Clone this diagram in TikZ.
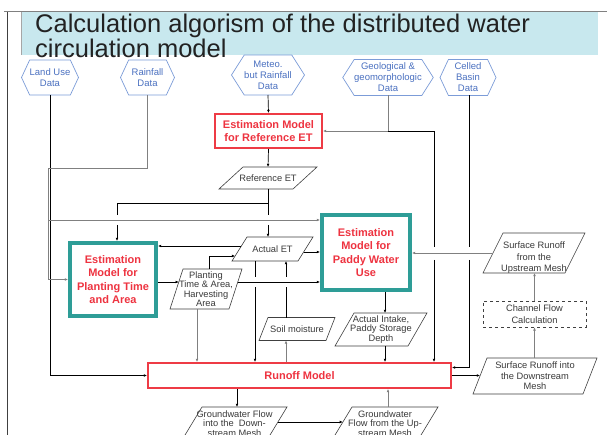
\documentclass[tikz,border=0pt]{standalone}
\usepackage{fontspec}
\setmainfont{Liberation Sans}
\usetikzlibrary{shapes.geometric,shapes.symbols,arrows.meta,calc}
\definecolor{titlebg}{HTML}{C8E8EE}
\definecolor{hexline}{HTML}{7C9CD8}
\definecolor{hextext}{HTML}{4A70C0}
\definecolor{redc}{HTML}{EE3B45}
\definecolor{redt}{HTML}{EE3340}
\definecolor{tealc}{HTML}{2E9D97}
\definecolor{paraline}{HTML}{404040}
\definecolor{paratext}{HTML}{3A3A3A}
\definecolor{grayline}{HTML}{808080}
\definecolor{titletext}{HTML}{222222}
\newcommand\drawpara[2]{\draw[paraline, line width=0.6pt] (#1.south west) -- ($(#1.north west)+(#2,0)$) -- (#1.north east) -- ($(#1.south east)+(-#2,0)$) -- cycle;}
\begin{document}
\begin{tikzpicture}[x=1pt,y=-1pt,
 hexa/.style={signal, signal to=east and west, signal pointer angle=130, draw=hexline, line width=0.7pt,
   text=hextext, font=\fontsize{9.5}{11}\selectfont, align=center, inner sep=0pt, outer sep=0pt},
 redbox/.style={rectangle, draw=redc, line width=1.6pt, fill=white, text=redt,
   font=\bfseries\fontsize{11}{13.3}\selectfont, align=center, inner sep=0pt},
 tealbox/.style={rectangle, draw=tealc, line width=4pt, fill=white, text=redt,
   font=\bfseries\fontsize{11}{13.3}\selectfont, align=center, inner sep=0pt},
 pnode/.style={rectangle, inner sep=0pt, outer sep=0pt},
 ptxt/.style={text=paratext, font=\fontsize{9.3}{10.5}\selectfont, align=center, inner sep=0pt},
 dbox/.style={rectangle, draw=paraline, dashed, line width=0.6pt, text=paratext,
   font=\fontsize{9.3}{11.5}\selectfont, align=center, inner sep=0pt},
 ln/.style={draw=black, line width=0.7pt},
 gl/.style={draw=grayline, line width=0.9pt},
 arr/.style={-{Latex[length=3.2pt,width=2.8pt]}}
]
\useasboundingbox (0,0) rectangle (607,435);
\clip (0,0) rectangle (607,435);
\fill[white] (0,0) rectangle (607,435);

% frame and title band
\fill[titlebg] (21,12.5) rectangle (598,55);
\draw[gray!70, line width=0.8pt] (21,12.5) -- (21,55);
\draw[grayline, line width=1pt] (4,12) -- (607,12);
\draw[black!75, line width=0.9pt] (7,12) -- (7,435);
\node[anchor=north west, inner sep=0pt, align=left, text=titletext,
      font=\fontsize{25.5}{20}\selectfont] (title) at (35,14)
  {Calculation algorism of the distributed water\\circulation model};

% data hexagons
\node[hexa, minimum width=56pt, minimum height=35pt] (lu) at (50,77.5) {Land Use\\Data};
\node[hexa, minimum width=54pt, minimum height=35pt] (rf) at (147.5,77.5) {Rainfall\\Data};
\node[hexa, signal pointer angle=115, minimum width=72pt, minimum height=40pt] (me) at (268,75) {Meteo.\\but Rainfall\\Data};
\node[hexa, signal pointer angle=115, minimum width=82pt, minimum height=36pt] (ge) at (388,77.5) {Geological \&\\geomorphologic\\Data};
\node[hexa, minimum width=56pt, minimum height=36pt] (cb) at (468,77.5) {Celled\\Basin\\Data};

% models
\node[redbox, minimum width=107.4pt, minimum height=34.4pt] (ref) at (268.5,131) {Estimation Model\\for Reference ET};
\node[redbox, minimum width=303.4pt, minimum height=25.4pt] (runoff) at (299.5,375.5) {Runoff Model};
\node[tealbox, minimum width=86pt, minimum height=73pt] (pt) at (113,279.5) {Estimation\\Model for\\Planting Time\\and Area};
\node[tealbox, minimum width=88pt, minimum height=75pt] (pw) at (366,252.5) {Estimation\\Model for\\Paddy Water\\Use};
\node[dbox, minimum width=103pt, minimum height=26pt] (chf) at (534.5,314) {Channel Flow\\Calculation};

% data parallelograms (outline drawn from each node's corners)
\node[pnode, minimum width=98pt, minimum height=22pt,
      label={[ptxt]center:Reference ET}] (ret) at (268,178) {};
\drawpara{ret}{24}
\node[pnode, minimum width=81pt, minimum height=24pt,
      label={[ptxt]center:Actual ET}] (aet) at (272.5,249) {};
\drawpara{aet}{15}
\node[pnode, minimum width=72pt, minimum height=40pt,
      label={[ptxt, font=\fontsize{9.3}{9.4}\selectfont]center:{Planting\\Time \& Area,\\Harvesting\\Area}}] (pta) at (206,289) {};
\drawpara{pta}{13}
\node[pnode, minimum width=76pt, minimum height=23pt,
      label={[ptxt]center:Soil moisture}] (sm) at (297,329) {};
\drawpara{sm}{9}
\node[pnode, minimum width=92pt, minimum height=33pt,
      label={[ptxt, font=\fontsize{9.3}{9.6}\selectfont]center:{Actual Intake,\\Paddy Storage\\Depth}}] (ai) at (381,329.5) {};
\drawpara{ai}{19}
\node[pnode, minimum width=102pt, minimum height=40pt,
      label={[ptxt, font=\fontsize{9.3}{11.5}\selectfont, yshift=-5pt]center:{Surface Runoff\\from the\\Upstream Mesh}}] (sru) at (534,253) {};
\drawpara{sru}{20}
\node[pnode, minimum width=124pt, minimum height=36pt,
      label={[ptxt]center:{Surface Runoff into\\the Downstream\\Mesh}}] (srd) at (535,376) {};
\drawpara{srd}{14}
\node[pnode, minimum width=105pt, minimum height=33pt,
      label={[ptxt, font=\fontsize{9.3}{9.5}\selectfont]center:{Groundwater Flow\\into the~ Down-\\stream Mesh}}] (gwi) at (234.5,423.5) {};
\drawpara{gwi}{20}
\node[pnode, minimum width=106pt, minimum height=33pt,
      label={[ptxt, font=\fontsize{9.3}{9.5}\selectfont]center:{Groundwater\\Flow from the Up-\\stream Mesh}}] (gwf) at (385,423.5) {};
\drawpara{gwf}{20}

% helper coordinates
\coordinate (j168) at (48,168);
\coordinate (j220) at (48,220);
\coordinate (rj) at (268,203);
\coordinate (hp) at (0,282);
\coordinate (xa) at (434,0);
\coordinate (xb) at (117,0);
\coordinate (xc) at (255,0);
\coordinate (xd) at (286,0);
\coordinate (xe) at (197,0);
\coordinate (xf) at (385,0);
\coordinate (xg) at (237,0);
\coordinate (xh) at (388,0);
\coordinate (xi) at (469,0);

% land use and rainfall
\draw[ln,arr] (lu.south) |- (runoff.west);
\draw[gl] (rf.south) |- (j168) -- (j220);
\draw[gl,arr] (j220) |- (pt.west);
\draw[gl,arr] (j220) -- (j220 -| pw.west);

% meteo, geological, celled basin
\draw[ln,arr] (me.south) -- (ref.north);
\draw[gl,arr] (ge.south) |- (ref.east);
\coordinate (gj) at (ge.south |- ref.east);
\draw[ln] (gj) -| ($(xa |- sru.west)+(0,-6)$);
\draw[ln,arr] ($(xa |- sru.west)+(0,7)$) -- (xa |- runoff.north);
\draw[ln] (cb.south -| xi) -- ($(xi |- sru.west)+(0,-6)$);
\coordinate (cbe) at ($(runoff.east)+(0,-8)$);
\draw[ln,arr] ($(xi |- sru.west)+(0,7)$) |- (cbe);

% reference ET
\draw[ln,arr] (ref.south) -- (ret.north);
\draw[ln] (ret.south) -- (rj);
\draw[ln] (rj) -| ($(xb |- j220)+(0,-5)$);
\draw[ln,arr] ($(xb |- j220)+(0,5)$) -- (xb |- pt.north);
\draw[ln] (rj) -- ($(rj |- j220)+(0,-5)$);
\draw[ln,arr] ($(rj |- j220)+(0,5)$) -- (rj |- aet.north);

% actual ET and planting
\coordinate (a1) at ($(aet.west)+(9.4,-3)$);
\draw[ln,arr] (a1) -- (a1 -| pt.east);
\coordinate (a2) at ($(aet.east)+(-9.4,3)$);
\draw[ln,arr] (a2) -- (a2 -| pw.west);
\coordinate (a3) at ($(pt.east)+(0,2.5)$);
\coordinate (a3e) at ($(a3 -| pta.west)+(8.8,0)$);
\draw[ln,arr] (a3) -- (a3e);
\coordinate (a4) at ($(pta.north)+(3,0)$);
\coordinate (a5) at ($(aet.west)+(3.1,7)$);
\draw[ln,arr] (a4) |- (a5);
\coordinate (a6) at ($(pta.east)+(-4.2,-7)$);
\draw[ln,arr] (a6) -- (a6 -| pw.west);
\draw[ln] (xc |- aet.south) -- ($(xc |- hp)+(0,-5)$);
\draw[ln,arr] ($(xc |- hp)+(0,5)$) -- (xc |- runoff.north);
\draw[ln] (xd |- sm.north) -- ($(xd |- hp)+(0,5)$);
\draw[ln,arr] ($(xd |- hp)+(0,-5)$) -- (xd |- aet.south);
\draw[gl,arr] (xd |- runoff.north) -- (xd |- sm.south);
\draw[gl,arr] (xe |- pta.south) -- (xe |- runoff.north);

% paddy
\draw[ln,arr] (xf |- pw.south) -- (xf |- ai.north);
\draw[ln,arr] (xf |- ai.south) -- (xf |- runoff.north);

% groundwater
\draw[ln,arr] (xg |- runoff.south) -- (xg |- gwi.north);
\draw[gl,arr] (xh |- gwf.north) -- (xh |- runoff.south);
\coordinate (a7) at ($(gwi.east)+(-9.1,-1.5)$);
\coordinate (a7e) at ($(a7 -| gwf.west)+(10.9,0)$);
\draw[ln,arr] (a7) -- (a7e);

% surface runoff loop
\coordinate (srdw) at ($(runoff.east -| srd.west)+(7,0)$);
\draw[ln,arr] (runoff.east) -- (srdw);
\draw[gl,arr] (chf.south |- srd.north) -- (chf.south);
\draw[gl,arr] (chf.north) -- (chf.north |- sru.south);
\coordinate (sruw) at ($(sru.west)+(10,0)$);
\draw[gl,arr] (sruw) -- (sruw -| pw.east);
\end{tikzpicture}
\end{document}
